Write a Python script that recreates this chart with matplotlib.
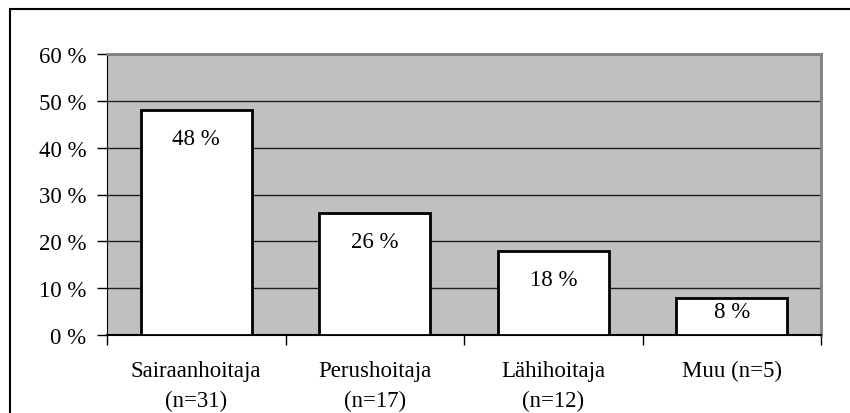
import matplotlib.pyplot as plt
from matplotlib.patches import Rectangle

categories = ["Sairaanhoitaja\n(n=31)", "Perushoitaja\n(n=17)", "Lähihoitaja\n(n=12)", "Muu (n=5)"]
values = [48, 26, 18, 8]
y_ticks = [0, 10, 20, 30, 40, 50, 60]

plt.rcParams['font.family'] = ['Liberation Serif', 'DejaVu Serif']
fs = 16.5

fig = plt.figure(figsize=(8.5, 4.14), dpi=100)
ax = fig.add_axes([107 / 850, 1 - 336 / 414, (821 - 107) / 850, (336 - 55) / 414])

# outer chart border (only top and left visible)
fig.patches.append(Rectangle((10 / 850, -0.1), 1.2, 1 - 10 / 414 + 0.1,
                             transform=fig.transFigure, fill=False,
                             edgecolor="black", linewidth=1.5))

ax.set_facecolor("#c0c0c0")
x = range(len(values))
ax.bar(x, values, width=0.62, color="white", edgecolor="black",
       linewidth=2, zorder=3)

# value labels inside the bars, closer to the top for short bars
for i, v in enumerate(values):
    drop = -34 if v >= 10 else -19
    ax.annotate("{} %".format(v), (i, v), xytext=(0, drop),
                textcoords="offset pixels", ha="center", va="baseline",
                fontsize=fs, zorder=4)

ax.set_xlim(-0.5, len(values) - 0.5)
ax.set_ylim(0, 60)
ax.set_yticks(y_ticks)
ax.set_yticklabels(["{} %".format(t) for t in y_ticks], fontsize=fs)
ax.yaxis.grid(True, color="#202020", linewidth=1, zorder=1)
ax.set_axisbelow(True)

# category labels centred, ticks between categories
ax.set_xticks([i - 0.5 for i in range(len(values) + 1)])
ax.set_xticklabels([])
ax.set_xticks(list(x), minor=True)
ax.set_xticklabels(categories, minor=True, fontsize=fs, linespacing=1.54)
ax.tick_params(axis="x", which="minor", length=0, pad=18)
ax.tick_params(axis="x", which="major", length=7, width=1, direction="out")
ax.tick_params(axis="y", length=7, width=1, direction="out", pad=8)

for side in ["top", "right"]:
    ax.spines[side].set_color("#808080")
    ax.spines[side].set_linewidth(2)
ax.spines["left"].set_color("black")
ax.spines["bottom"].set_color("black")
ax.spines["bottom"].set_linewidth(1.5)

plt.savefig("out.png", dpi=100)
